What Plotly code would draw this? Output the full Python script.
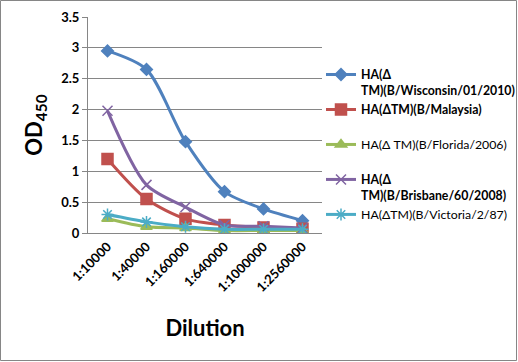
import plotly.graph_objects as go

categories = ["1:10000", "1:40000", "1:160000", "1:640000", "1:1000000", "1:2560000"]
wisconsin = [2.95, 2.65, 1.48, 0.67, 0.39, 0.20]
malaysia = [1.20, 0.55, 0.23, 0.13, 0.09, 0.07]
florida = [0.23, 0.10, 0.08, 0.04, 0.04, 0.04]
brisbane = [1.98, 0.78, 0.42, 0.13, 0.11, 0.08]
victoria = [0.30, 0.18, 0.10, 0.06, 0.06, 0.06]
y_ticks = [0, 0.5, 1, 1.5, 2, 2.5, 3, 3.5]

names = [
    "<b>HA(Δ<br>TM)(B/Wisconsin/01/2010)</b>",
    "<b>HA(ΔTM)(B/Malaysia)</b><br>&nbsp;",
    "HA(Δ TM)(B/Florida/2006)<br>&nbsp;",
    "<b>HA(Δ<br>TM)(B/Brisbane/60/2008)</b>",
    "HA(ΔTM)(B/Victoria/2/87)",
]
series = [wisconsin, malaysia, florida, brisbane, victoria]
colors = ["#4F81BD", "#C0504D", "#9BBB59", "#8064A2", "#4BACC6"]
symbols = ["diamond", "square", "triangle-up", "x-thin-open", "asterisk-open"]
sizes = [9, 11, 10, 10, 10]

W, H = 518, 362
L, R, T, B = 88, 196, 17, 129

fig = go.Figure()
for i, (nm, ys, c, s, sz) in enumerate(zip(names, series, colors, symbols, sizes)):
    fig.add_trace(go.Scatter(
        x=categories, y=ys, name=nm, mode="lines+markers",
        line=dict(color=c, width=3, shape="spline", smoothing=0.8),
        marker=dict(symbol=s, size=sz, color=c, line=dict(color=c, width=1.5)),
        legendgroup=f"g{i}",
    ))

pw = W - L - R
ph = H - T - B
fig.update_layout(
    width=W, height=H,
    margin=dict(l=L, r=R, t=T, b=B, autoexpand=False),
    paper_bgcolor="white", plot_bgcolor="white",
    font=dict(family="Lato, Liberation Sans, sans-serif", color="black"),
    showlegend=True,
    legend=dict(
        x=(321 - L) / pw, y=(233 - 60) / ph, xanchor="left", yanchor="top",
        font=dict(size=12.3, family="Lato, Liberation Sans, sans-serif"),
        tracegroupgap=0, valign="top", itemwidth=30,
        bgcolor="rgba(0,0,0,0)",
    ),
    xaxis=dict(
        type="category", range=[-0.5, 5.5], automargin=False,
        showgrid=False, showline=True, linecolor="#868686", linewidth=1,
        tickangle=-45, tickfont=dict(size=13, family="Lato, sans-serif"),
        tickvals=categories, ticktext=[f"<b>{c}</b>" for c in categories],
        ticks="", title=dict(text="<b>Dilution</b>", font=dict(size=22), standoff=26),
    ),
    yaxis=dict(
        range=[0, 3.5], automargin=False,
        tickvals=y_ticks, ticktext=[f"<b>{v:g}</b>" for v in y_ticks],
        showgrid=True, gridcolor="#868686", gridwidth=1,
        showline=True, linecolor="#868686", linewidth=1,
        ticks="outside", ticklen=5, tickcolor="#868686",
        tickfont=dict(size=13, family="Lato, sans-serif"),
        title=dict(text="<b>OD<sub>450</sub></b>", font=dict(size=22), standoff=12),
        zeroline=False,
    ),
)

# outer chart border
fig.add_shape(type="rect", xref="paper", yref="paper",
              x0=-L / pw + 0.5 / pw, x1=1 + (R - 1.5) / pw,
              y0=-B / ph + 1.5 / ph, y1=1 + (T - 0.5) / ph,
              line=dict(color="#868686", width=1), fillcolor="rgba(0,0,0,0)", layer="below")

fig.write_html("out.html", config={"displayModeBar": False},
               post_script="document.body.style.margin='0';document.body.style.overflow='hidden';")
